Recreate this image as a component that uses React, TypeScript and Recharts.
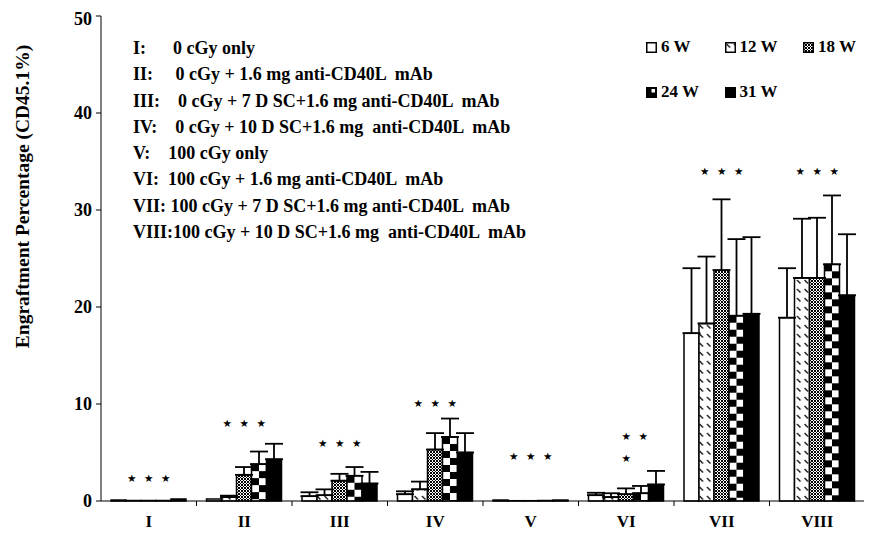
import React from 'react';
import { ComposedChart, Bar, XAxis, YAxis, ErrorBar, Scatter } from 'recharts';

const categories = ['I', 'II', 'III', 'IV', 'V', 'VI', 'VII', 'VIII'];
const w6 = [0.1, 0.2, 0.5, 0.7, 0.1, 0.6, 17.3, 18.9];
const w6Err = [null, null, 0.4, 0.3, null, 0.25, 6.7, 5.1];
const w12 = [0.05, 0.4, 0.6, 1.2, 0.03, 0.4, 18.3, 23.0];
const w12Err = [null, 0.15, 0.6, 0.8, null, 0.4, 6.9, 6.1];
const w18 = [0.05, 2.7, 2.1, 5.3, 0.03, 0.7, 23.8, 23.0];
const w18Err = [null, 0.8, 0.7, 1.7, null, 0.6, 7.3, 6.2];
const w24 = [0.05, 3.8, 2.6, 6.6, 0.05, 0.8, 19.1, 24.4];
const w24Err = [null, 1.3, 0.9, 1.9, null, 0.75, 7.9, 7.1];
const w31 = [0.2, 4.3, 1.8, 5.0, 0.1, 1.7, 19.3, 21.2];
const w31Err = [null, 1.6, 1.2, 2.0, null, 1.4, 7.9, 6.3];

// significance star heights (value units)
const starA = [2.4, 8.0, 6.0, 10.1, 4.6, null, 34.0, 34.0];
const starB = [2.4, 8.0, 6.0, 10.1, 4.6, 6.7, 34.0, 34.0];
const starC = [2.4, 8.0, 6.0, 10.1, 4.6, 6.7, 34.0, 34.0];
const starLow = [null, null, null, null, null, 4.4, null, null];

const yTicks = [0, 10, 20, 30, 40, 50];
const seriesNames = ['6 W', '12 W', '18 W', '24 W', '31 W'];
const groupLines = [
  'I:      0 cGy only',
  'II:     0 cGy + 1.6 mg anti-CD40L  mAb',
  'III:    0 cGy + 7 D SC+1.6 mg anti-CD40L  mAb',
  'IV:    0 cGy + 10 D SC+1.6 mg  anti-CD40L  mAb',
  'V:    100 cGy only',
  'VI:  100 cGy + 1.6 mg anti-CD40L  mAb',
  'VII: 100 cGy + 7 D SC+1.6 mg anti-CD40L  mAb',
  'VIII:100 cGy + 10 D SC+1.6 mg  anti-CD40L  mAb',
];

const toErr = (e: number | null) => (e == null ? null : [0, e]);

const data = categories.map((cat, i) => ({
  cat,
  w6: w6[i], e6: toErr(w6Err[i]),
  w12: w12[i], e12: toErr(w12Err[i]),
  w18: w18[i], e18: toErr(w18Err[i]),
  w24: w24[i], e24: toErr(w24Err[i]),
  w31: w31[i], e31: toErr(w31Err[i]),
  sA: starA[i], sB: starB[i], sC: starC[i], sL: starLow[i],
}));

const SERIF = '"Liberation Serif", "Times New Roman", serif';
const CHART_W = 864;
const CHART_H = 521;
const X_AXIS_H = 28;
const MARGIN = { top: 8, right: 7, bottom: 0, left: 0 };
const AXIS_Y = CHART_H - MARGIN.bottom - X_AXIS_H;

const CheckerBar = (props: any) => {
  const { x, y, width, height } = props;
  if (!(height > 0) || !(width > 0)) return null;
  const rh = 7;
  const cw = width / 2;
  const rects: React.ReactNode[] = [];
  const rows = Math.ceil(height / rh);
  for (let r = 0; r < rows; r++) {
    const ry = y + r * rh;
    const h = Math.min(rh, y + height - ry);
    const col = r % 2 === 0 ? 0 : 1;
    rects.push(<rect key={r} x={x + col * cw} y={ry} width={cw} height={h} fill="#000" />);
  }
  return (
    <g>
      <rect x={x} y={y} width={width} height={height} fill="#fff" />
      {rects}
      <rect x={x} y={y} width={width} height={height} fill="none" stroke="#000" strokeWidth={1.5} />
    </g>
  );
};

const makeStar = (dx: number) => (props: any) => {
  const { cx, cy } = props;
  if (!Number.isFinite(cx) || !Number.isFinite(cy)) return null;
  return (
    <text x={cx + dx} y={cy} textAnchor="middle" dominantBaseline="central" fontSize={10.5}
      fontFamily='"DejaVu Sans", sans-serif' fill="#000">★</text>
  );
};

const XTick = (props: any) => {
  const { x, payload } = props;
  const half = payload && payload.offset ? payload.offset : 47.75;
  return (
    <g>
      <text x={x} y={AXIS_Y + 26} textAnchor="middle" fontFamily={SERIF} fontWeight="bold" fontSize={17} fill="#000">
        {payload.value}
      </text>
      <line x1={x + half} y1={AXIS_Y} x2={x + half} y2={AXIS_Y + 5} stroke="#000" strokeWidth={1} />
    </g>
  );
};

const YLabel = (props: any) => {
  const { viewBox } = props;
  const cx = viewBox.x + 14.5;
  const cy = viewBox.y + viewBox.height / 2 - 62;
  return (
    <text x={cx} y={cy} transform={`rotate(-90 ${cx} ${cy})`} textAnchor="middle" dominantBaseline="central"
      fontFamily={SERIF} fontWeight="bold" fontSize={19.5} fill="#000">
      Engraftment Percentage (CD45.1%)
    </text>
  );
};

const LegendIcon = ({ idx }: { idx: number }) => {
  if (idx === 3) {
    return (
      <svg width={11} height={11} style={{ display: 'block' }}>
        <rect x={0.5} y={0.5} width={10} height={10} fill="#000" stroke="#000" />
        <rect x={5.5} y={2} width={3.5} height={3.5} fill="#fff" />
      </svg>
    );
  }
  const fills = ['#fff', 'url(#pat12)', 'url(#pat18)', '#000', '#000'];
  return (
    <svg width={11} height={11} style={{ display: 'block' }}>
      <rect x={0.75} y={0.75} width={9.5} height={9.5} fill={fills[idx]} stroke="#000" strokeWidth={1.5} />
    </svg>
  );
};

export default function App() {
  return (
    <div style={{ position: 'relative', width: CHART_W, height: CHART_H }}>
      <style>{`.recharts-surface{overflow:visible}`}</style>
      <svg width={0} height={0} style={{ position: 'absolute' }}>
        <defs>
          <pattern id="pat12" patternUnits="userSpaceOnUse" width={7.5} height={9}>
            <rect width={7.5} height={9} fill="#fff" />
            <line x1={1.5} y1={2} x2={5} y2={5.5} stroke="#000" strokeWidth={1.2} />
          </pattern>
          <pattern id="pat18" patternUnits="userSpaceOnUse" width={3} height={3}>
            <rect width={3} height={3} fill="#fff" />
            <rect x={0} y={0} width={1} height={1} fill="#000" />
            <rect x={1} y={1} width={1} height={1} fill="#000" />
            <rect x={2} y={2} width={1} height={1} fill="#000" />
            <rect x={2} y={0} width={1} height={1} fill="#000" />
            <rect x={0} y={2} width={1} height={1} fill="#000" />
          </pattern>
        </defs>
      </svg>
      <ComposedChart width={CHART_W} height={CHART_H} data={data} style={{ overflow: 'visible' }}
        margin={MARGIN} barCategoryGap={10} barGap={0}>
        <XAxis dataKey="cat" height={X_AXIS_H} tickLine={false} tickSize={0} tickMargin={0}
          axisLine={{ stroke: '#000', strokeWidth: 1 }} tick={<XTick />} interval={0} />
        <YAxis width={93} domain={[0, 50]} ticks={yTicks} tickSize={5} tickMargin={4}
          axisLine={{ stroke: '#000', strokeWidth: 1 }} tickLine={{ stroke: '#000' }}
          tick={{ fontFamily: SERIF, fontWeight: 'bold', fontSize: 18, fill: '#000' }}
          label={<YLabel />} />
        <Bar dataKey="w6" fill="#fff" stroke="#000" strokeWidth={1.5} isAnimationActive={false}>
          <ErrorBar dataKey="e6" width={9} stroke="#000" strokeWidth={1.8} direction="y" />
        </Bar>
        <Bar dataKey="w12" fill="url(#pat12)" stroke="#000" strokeWidth={1.5} isAnimationActive={false}>
          <ErrorBar dataKey="e12" width={9} stroke="#000" strokeWidth={1.8} direction="y" />
        </Bar>
        <Bar dataKey="w18" fill="url(#pat18)" stroke="#000" strokeWidth={1.5} isAnimationActive={false}>
          <ErrorBar dataKey="e18" width={9} stroke="#000" strokeWidth={1.8} direction="y" />
        </Bar>
        <Bar dataKey="w24" fill="#fff" shape={<CheckerBar />} isAnimationActive={false}>
          <ErrorBar dataKey="e24" width={9} stroke="#000" strokeWidth={1.8} direction="y" />
        </Bar>
        <Bar dataKey="w31" fill="#000" stroke="#000" strokeWidth={1.5} isAnimationActive={false}>
          <ErrorBar dataKey="e31" width={9} stroke="#000" strokeWidth={1.8} direction="y" />
        </Bar>
        <Scatter dataKey="sA" shape={makeStar(-17)} isAnimationActive={false} />
        <Scatter dataKey="sB" shape={makeStar(0)} isAnimationActive={false} />
        <Scatter dataKey="sC" shape={makeStar(17)} isAnimationActive={false} />
        <Scatter dataKey="sL" shape={makeStar(0)} isAnimationActive={false} />
      </ComposedChart>
      <div style={{ position: 'absolute', left: 125, top: 27, fontFamily: SERIF, fontWeight: 'bold',
        fontSize: 18, lineHeight: '26.3px', whiteSpace: 'pre', color: '#000' }}>
        {groupLines.map((l) => <div key={l}>{l}</div>)}
      </div>
      <div style={{ position: 'absolute', left: 638, top: 29, width: 240, display: 'flex', flexWrap: 'wrap',
        rowGap: 25, fontFamily: SERIF, fontWeight: 'bold', fontSize: 17, color: '#000' }}>
        {seriesNames.map((n, i) => (
          <div key={n} style={{ width: 78.5, height: 20, display: 'flex', alignItems: 'center' }}>
            <LegendIcon idx={i} />
            <span style={{ marginLeft: 4 }}>{n}</span>
          </div>
        ))}
      </div>
    </div>
  );
}
